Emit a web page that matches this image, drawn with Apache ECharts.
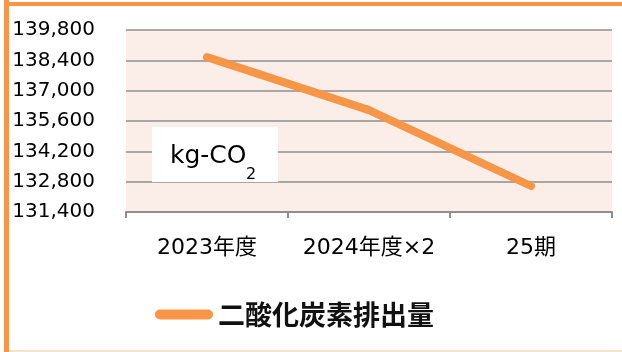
<!DOCTYPE html>
<html>
<head>
<meta charset="utf-8">
<script src="https://cdn.jsdelivr.net/npm/echarts@6/dist/echarts.min.js"></script>
<style>
html,body{margin:0;padding:0;background:#fff;}
#main{width:622px;height:352px;}
</style>
</head>
<body>
<div id="main"></div>
<script>
// 年度ごとの二酸化炭素排出量
var categories = ['2023年度', '2024年度×2', '25期'];
var co2 = [138550, 136100, 132600];
var yTicks = [131400, 132800, 134200, 135600, 137000, 138400, 139800];
var seriesName = '二酸化炭素排出量';

var orange = '#f79646';
var chart = echarts.init(document.getElementById('main'));

var option = {
    animation: false,
    backgroundColor: '#fff',
    grid: {
        left: 126, right: 10, top: 30, bottom: 140,
        show: true,
        backgroundColor: '#fbede8',
        borderWidth: 0
    },
    legend: {
        left: 155, top: 301, padding: 0,
        itemWidth: 58, itemHeight: 10,
        icon: 'path://M5,0 H53 A5,5 0 0 1 53,10 H5 A5,5 0 0 1 5,0 Z',
        textStyle: {
            fontFamily: '"Noto Sans CJK JP"',
            fontSize: 27, fontWeight: 'bold', color: '#111'
        },
        data: [seriesName]
    },
    xAxis: {
        type: 'category',
        data: categories,
        boundaryGap: true,
        axisLine: { lineStyle: { color: '#8e8e8e', width: 2 } },
        axisTick: { show: true, length: 6, lineStyle: { color: '#8e8e8e', width: 2 } },
        axisLabel: {
            margin: 25,
            fontFamily: '"DejaVu Sans", "Noto Sans CJK JP"',
            fontSize: 22, color: '#000',
            interval: 0
        }
    },
    yAxis: {
        type: 'value',
        min: yTicks[0],
        max: yTicks[yTicks.length - 1],
        axisLine: { show: false },
        axisTick: { show: false, customValues: yTicks },
        axisLabel: {
            customValues: yTicks,
            margin: 31,
            fontFamily: '"DejaVu Sans"',
            fontSize: 20, color: '#000',
            formatter: function (v) { return v.toLocaleString('en-US'); }
        },
        splitLine: { show: true, lineStyle: { color: '#8e8e8e', width: 1.5 } }
    },
    series: [{
        name: seriesName,
        type: 'line',
        data: co2,
        symbol: 'none',
        showSymbol: false,
        color: orange,
        lineStyle: { width: 8, color: orange, cap: 'round', join: 'round' },
        z: 5
    }],
    graphic: [
        // 外枠
        { type: 'rect', z: 100, shape: { x: 4, y: 0, width: 5, height: 352 }, style: { fill: orange } },
        { type: 'rect', z: 100, shape: { x: 4, y: 2, width: 618, height: 4 }, style: { fill: orange } },
        { type: 'line', z: 100, shape: { x1: 9, y1: 351, x2: 622, y2: 351 }, style: { stroke: '#fad7b8', lineWidth: 1.5 } },
        // 単位ボックス
        { type: 'rect', z: 50, shape: { x: 152, y: 127, width: 126, height: 55 }, style: { fill: '#fff' } },
        { type: 'text', z: 51, style: { x: 170, y: 156, text: 'kg-CO', font: '25px "DejaVu Sans"', fill: '#000', textVerticalAlign: 'middle' } },
        { type: 'text', z: 51, style: { x: 246, y: 175, text: '2', font: '16px "DejaVu Sans"', fill: '#000', textVerticalAlign: 'middle' } }
    ]
};
chart.setOption(option);
</script>
</body>
</html>
